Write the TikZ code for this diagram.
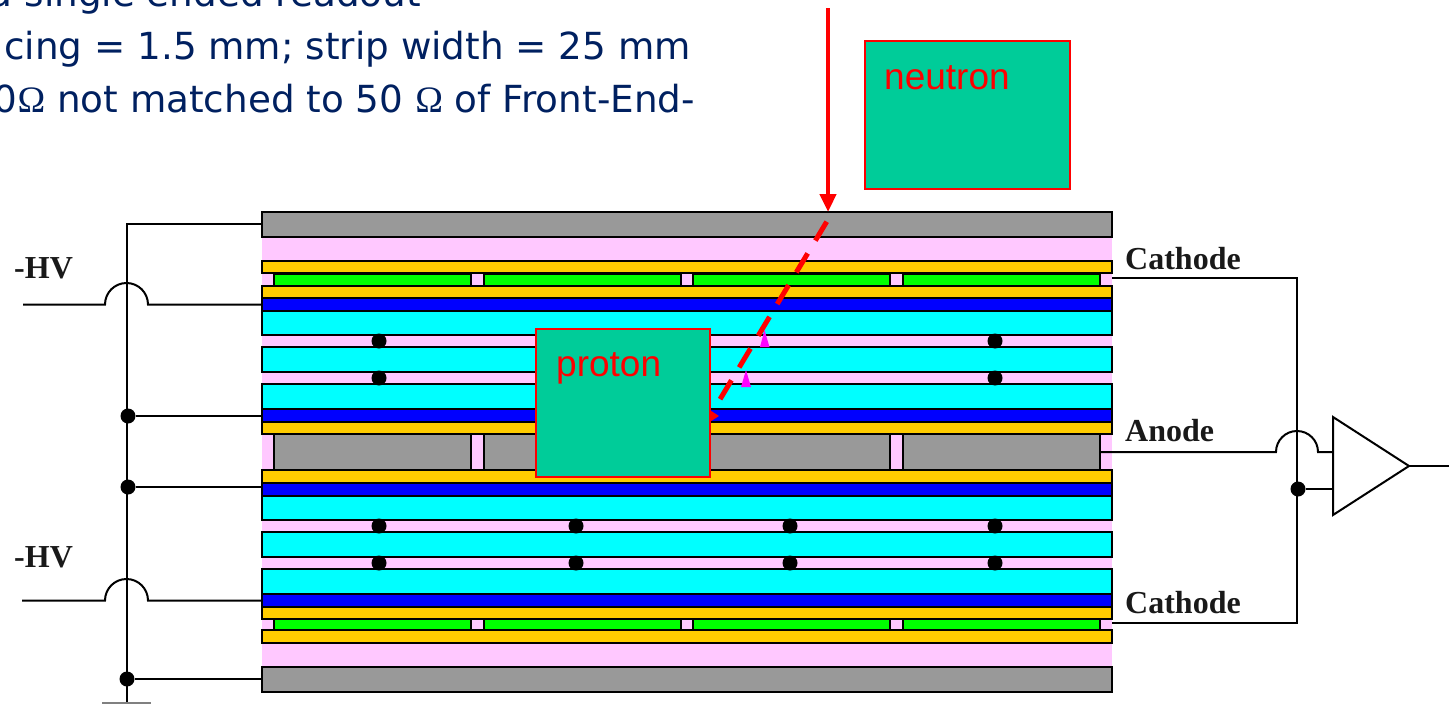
\documentclass[tikz,border=0pt]{standalone}
\usepackage{fontspec}
\usepackage{tikz}
\usetikzlibrary{arrows.meta}
\setmainfont{Liberation Sans}
\newfontfamily\labelfont{Liberation Serif}
\newfontfamily\notefont{DejaVu Sans}
\definecolor{gold}{HTML}{FFCC00}
\definecolor{strip}{HTML}{00FF00}
\definecolor{hvblue}{HTML}{0000FF}
\definecolor{glass}{HTML}{00FFFF}
\definecolor{gap}{HTML}{FFC8FF}
\definecolor{graphite}{HTML}{999999}
\definecolor{patch}{HTML}{00CC99}
\definecolor{notecol}{HTML}{002060}
\definecolor{ion}{HTML}{FF00FF}
\tikzset{
  layer/.style={draw=black,line width=1.9pt,inner sep=0pt,outer sep=0pt,minimum width=850pt},
  stripbox/.style={draw=black,line width=1.9pt,inner sep=0pt,outer sep=0pt,minimum width=197pt},
  spacer/.style={circle,fill=black,inner sep=0pt,minimum size=15pt},
  wire/.style={line width=2pt},
  hvlabel/.style={font=\labelfont\bfseries\fontsize{32}{36}\selectfont,text=black!90,inner sep=0pt,anchor=base west},
  note/.style={font=\notefont\fontsize{37.3}{42}\selectfont,text=notecol,inner sep=0pt,anchor=base east},
  patchbox/.style={draw=red,fill=patch,line width=1.9pt,inner sep=0pt,outer sep=0pt},
  patchtext/.style={font=\fontsize{37}{40}\selectfont,text=red,inner sep=0pt,anchor=base west},
}
\begin{document}
\begin{tikzpicture}[x=1pt,y=-1pt]
  \useasboundingbox (0,0) rectangle (1449,704);
  %text cut off by the slide
  \node[note] (noteone) at (421,6) {a single ended readout};
  \node[note] (notetwo) at (691,59) {cing = 1.5 mm; strip width = 25 mm};
  \node[note] (notethree) at (695,112) {0{\labelfont Ω} not matched to 50 {\labelfont Ω} of Front-End-};
  %pink filling behind the layers
  \fill[gap] (262,237) rectangle (1112,667);
  %layers, top to bottom
  \foreach \name/\ytop/\ybot/\col in {
      greytop/212/237/graphite, goldone/261/273/gold, goldtwo/286/298/gold,
      blueone/298/311/hvblue, glassone/311/335/glass, glasstwo/347/372/glass,
      glassthree/384/409/glass, bluetwo/409/422/hvblue, goldthree/422/434/gold,
      goldfour/470/483/gold, bluethree/483/496/hvblue, glassfour/496/520/glass,
      glassfive/532/557/glass, glasssix/569/594/glass, bluefour/594/607/hvblue,
      goldfive/607/619/gold, goldsix/630/643/gold, greybot/667/692/graphite}
    \node[layer,fill=\col,minimum height={\ybot-\ytop}] (\name) at (687,{(\ytop+\ybot)/2}) {};
  %strips
  \foreach \i/\xs in {1/372.5,2/582.5,3/791.5,4/1001.5} {
    \node[stripbox,fill=strip,minimum height=12pt] (greentop\i) at (\xs,280) {};
    \node[stripbox,fill=strip,minimum height=11pt] (greenbot\i) at (\xs,624.5) {};
    \node[stripbox,fill=graphite,minimum height=36pt] (anode\i) at (\xs,452) {};
  }
  %spacers
  \foreach \i/\xs in {1/379,4/995} {
    \node[spacer] (spa\i) at (\xs,341) {};
    \node[spacer] (spb\i) at (\xs,378) {};
  }
  \foreach \i/\xs in {1/379,2/576,3/790,4/995} {
    \node[spacer] (spc\i) at (\xs,526) {};
    \node[spacer] (spd\i) at (\xs,563) {};
  }
  %left side
  \coordinate (gndtop) at (127,224);
  \coordinate (gnd) at (127,703);
  \coordinate (hvone) at (23,304.5);
  \coordinate (hvtwo) at (22,600.5);
  \node[spacer] (dotone) at (128,416) {};
  \node[spacer] (dottwo) at (128,487) {};
  \node[spacer] (dotthree) at (127,679) {};
  \draw[wire] (gnd) -- (gndtop) -- (gndtop -| greytop.west);
  \draw[wire,gray] (102,703) -- (151,703);
  \draw[wire] (hvone) -- (105,304.5) arc (180:360:21.5) -- (blueone.west);
  \draw[wire] (hvtwo) -- (105,600.5) arc (180:360:21.5) -- (bluefour.west);
  \draw[wire] (dotone) -- (dotone -| bluetwo.west);
  \draw[wire] (dottwo) -- (dottwo -| bluethree.west);
  \draw[wire] (dotthree) -- (dotthree -| greybot.west);
  \node[hvlabel] (hvlabone) at (14,278) {-HV};
  \node[hvlabel] (hvlabtwo) at (14,567) {-HV};
  %right side
  \coordinate (cathtop) at (1297,278);
  \coordinate (cathbot) at (1297,623);
  \coordinate (ampout) at (1449,466);
  \node[spacer] (dotamp) at (1298,489) {};
  \coordinate (ampa) at (1333,417);
  \coordinate (ampb) at (1333,515);
  \coordinate (ampc) at (1409,466);
  \coordinate (ampin) at (1333,452);
  \draw[wire] (cathtop -| goldtwo.east) -- (cathtop) -- (cathbot) -- (cathbot -| goldfive.east);
  \draw[wire] (anode4.east) -- (1276,452) arc (180:360:21) -- (ampin);
  \draw[wire] (dotamp) -- (ampa |- dotamp);
  \draw[wire,fill=white] (ampa) -- (ampb) -- (ampc) -- cycle;
  \draw[wire] (ampc) -- (ampout);
  \node[hvlabel] (cathlabone) at (1125,269) {Cathode};
  \node[hvlabel] (anodelab) at (1125,441) {Anode};
  \node[hvlabel] (cathlabtwo) at (1125,613) {Cathode};
  %neutron track
  \coordinate (beamtop) at (828,8);
  \coordinate (beamhit) at (828,212);
  \coordinate (trackstart) at (826.7,221.7);
  \coordinate (trackend) at (720,399.3);
  \draw[red,line width=4.5pt,-{Triangle[length=18pt,width=16pt]}] (beamtop) -- (beamhit);
  \draw[red,line width=5pt,dash pattern=on 22pt off 15pt] (trackstart) -- (trackend);
  \fill[red] (719,416) -- (705,407) -- (705,425) -- cycle;
  %small magenta arrows
  \fill[ion] (764.5,330) -- (769.5,347) -- (760,347) -- cycle;
  \fill[ion] (746,370) -- (751,387) -- (741,387) -- cycle;
  %boxes on top
  \node[patchbox,minimum width=205pt,minimum height=148pt] (neutronbox) at (967.5,115) {};
  \node[patchbox,minimum width=174pt,minimum height=148pt] (protonbox) at (623,403) {};
  \node[patchtext] (neutronlab) at (884,89) {neutron};
  \node[patchtext] (protonlab) at (556,376) {proton};
\end{tikzpicture}
\end{document}
